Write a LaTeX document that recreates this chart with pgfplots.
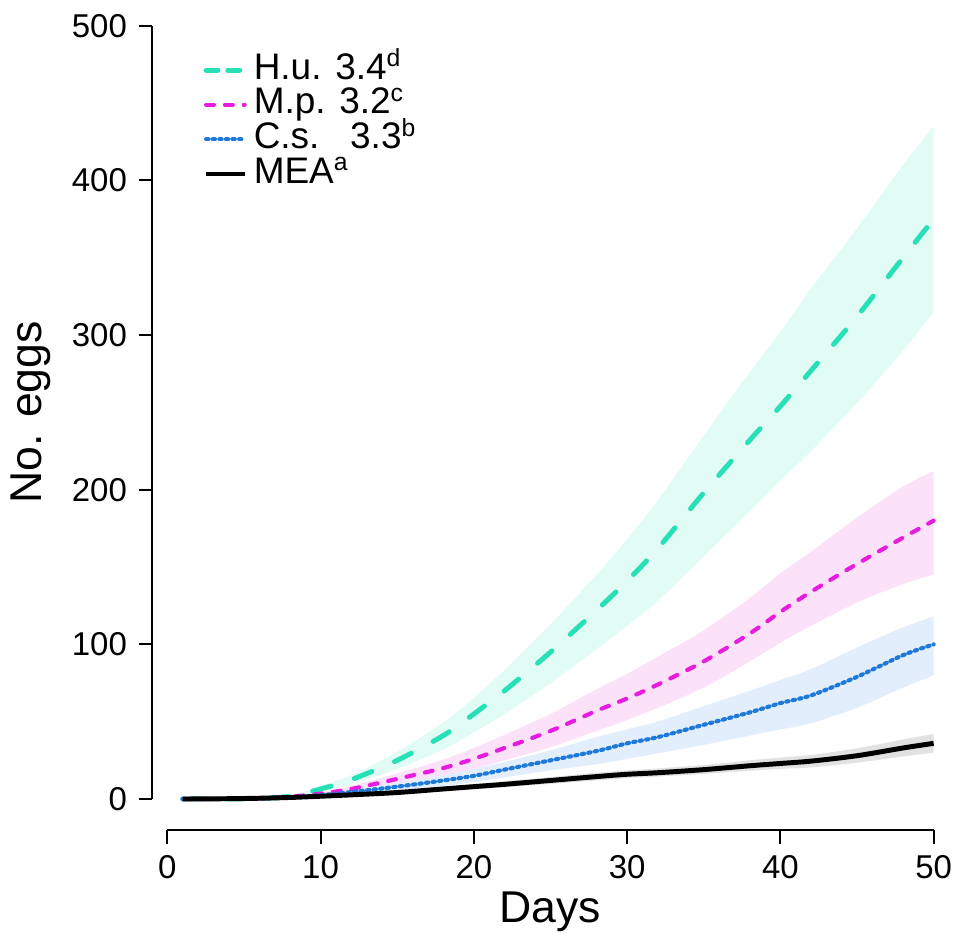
\documentclass[border=0pt]{standalone}
\usepackage{fontspec}
\setmainfont{Liberation Sans}
\usepackage{pgfplots}
\usepackage{pgfplotstable}
\pgfplotsset{compat=1.18}
\usepgfplotslibrary{fillbetween}

\definecolor{hucol}{RGB}{40,224,182}
\definecolor{huband}{RGB}{224,252,244}
\definecolor{mpcol}{RGB}{230,28,222}
\definecolor{mpband}{RGB}{252,226,248}
\definecolor{cscol}{RGB}{30,122,216}
\definecolor{csband}{RGB}{226,238,252}
\definecolor{meaband}{RGB}{226,226,226}

\newcommand{\sups}[1]{\raisebox{0.33em}{\fontsize{7.5}{8}\selectfont #1}}

% x, mean, lower, upper
\pgfplotstableread{
x   m    lo    hi
1   0    0     0
4   0.1  0.05  0.2
6   0.4  0.3   0.6
8   1.8  1.3   2.4
10  6.5  4.8   8.2
12  12.5 9.5   15.5
15  25   19.5  30.5
18  41   32    49.5
20  55   43    65.5
22  70   55    83.5
25  95   75    113
28  122  97    145
30  141  112   168
32  162  128   193
35  198  157   235
38  232  186   276
40  254  206   302
42  277  225   330
45  312  256   369
48  350  290   410
50  375  315   435
}\hutable

\pgfplotstableread{
x   m    lo    hi
1   0    0     0
4   0.1  0.05  0.2
6   0.4  0.2   0.6
8   1.5  1     2
10  3.5  2.5   4.5
12  6.5  4.5   8.5
15  13   9.5   16.5
18  20   15    25.5
20  26   19.5  33
22  33   25    41.5
25  44   33.5  55
28  57   44    71
30  65   51    81
32  74   59    92
35  89   72    109
38  107  89    130
40  121  101   146
42  134  112   160
45  152  127   182
48  169  139   202
50  180  145   212
}\mptable

\pgfplotstableread{
x   m    lo    hi
1   0    0     0
4   0.1  0.05  0.2
6   0.3  0.2   0.5
8   1    0.6   1.4
10  2.5  1.6   3.5
12  4.5  3     6
15  8    5.5   10.5
18  12   8.5   15.5
20  15   11    19.5
22  19   14    24
25  25   18.5  31.5
28  31   22.5  40
30  36   26    45
32  40   29.5  50
35  48   35    60
38  56   41    70
40  62   45    77
42  67   49    84
45  79   59    98
48  93   72    111
50  100  80    118
}\cstable

\pgfplotstableread{
x   m    lo    hi
1   0    0     0
4   0.2  0.1   0.3
6   0.5  0.3   0.7
8   1    0.7   1.3
10  1.8  1.3   2.3
12  2.7  2     3.4
15  4.2  3.2   5.2
18  6.5  5     8
20  8    6.3   9.7
22  9.5  7.5   11.5
25  12   9.8   14.2
28  14.5 12    17
30  16   13.5  18.5
32  17   14.5  19.8
35  19   16.2  22
38  21.5 18.2  25
40  23   19.5  26.8
42  24.5 20.5  28.5
45  28   23.5  32.8
48  33   27.5  38.5
50  36   30    42
}\meatable

\begin{document}
\begin{tikzpicture}
\begin{axis}[
    scale only axis,
    width=232.2pt, height=234.3pt,
    xmin=0, xmax=50, ymin=0, ymax=500,
    axis lines=left,
    axis x line shift=9.3pt,
    axis y line shift=4.5pt,
    axis line style={-, line width=0.6pt},
    tick align=outside,
    major tick length=4.2pt,
    tick style={black, line width=0.6pt},
    xtick={0,10,...,50}, ytick={0,100,...,500},
    /pgf/number format/assume math mode=true,
    tick label style={font=\fontsize{10}{12}\selectfont},
    xlabel={Days}, ylabel={No. eggs},
    label style={font=\fontsize{13.5}{16}\selectfont},
    xlabel style={at={(axis description cs:0.5,-0.160)}, anchor=base},
    ylabel style={at={(axis description cs:-0.164,0.5)}, anchor=base},
    clip=false,
    legend cell align=left,
    legend style={draw=none, fill=none, inner sep=0pt,
        at={(axis description cs:0.0465,0.966)}, anchor=north west,
        font=\fontsize{11.2}{13}\selectfont,
        nodes={inner sep=0pt, text height=8pt, text depth=2.5pt},
        /tikz/every odd column/.append style={column sep=2pt}},
    legend image code/.code={\draw[#1] (0pt,0pt) -- (11.7pt,0pt);},
]
% bands
\addplot[name path=huhi, draw=none, forget plot, smooth] table[x=x,y=hi] {\hutable};
\addplot[name path=hulo, draw=none, forget plot, smooth] table[x=x,y=lo] {\hutable};
\addplot[huband, draw=none, forget plot] fill between[of=huhi and hulo];
\addplot[name path=mphi, draw=none, forget plot, smooth] table[x=x,y=hi] {\mptable};
\addplot[name path=mplo, draw=none, forget plot, smooth] table[x=x,y=lo] {\mptable};
\addplot[mpband, draw=none, forget plot] fill between[of=mphi and mplo];
\addplot[name path=cshi, draw=none, forget plot, smooth] table[x=x,y=hi] {\cstable};
\addplot[name path=cslo, draw=none, forget plot, smooth] table[x=x,y=lo] {\cstable};
\addplot[csband, draw=none, forget plot] fill between[of=cshi and cslo];
\addplot[name path=meahi, draw=none, forget plot, smooth] table[x=x,y=hi] {\meatable};
\addplot[name path=mealo, draw=none, forget plot, smooth] table[x=x,y=lo] {\meatable};
\addplot[meaband, draw=none, forget plot] fill between[of=meahi and mealo];
% means
\addplot[hucol, line width=1.5pt, line cap=round, dash pattern=on 5.7pt off 7.5pt, smooth,
    legend image code/.code={\draw[hucol, line width=1.5pt, line cap=round, dash pattern=on 3.6pt off 3pt] (0pt,0pt) -- (11.7pt,0pt);}]
    table[x=x,y=m] {\hutable};
\addlegendentry{H.u. 3.4\sups{d}}
\addplot[mpcol, line width=1.25pt, line cap=round, dash pattern=on 2.4pt off 3.3pt, smooth] table[x=x,y=m] {\mptable};
\addlegendentry{M.p. 3.2\sups{c}}
\addplot[cscol, line width=1.25pt, line cap=round, dash pattern=on 0.7pt off 1.3pt, smooth] table[x=x,y=m] {\cstable};
\addlegendentry{C.s.\hspace{0.83em}3.3\sups{b}}
\addplot[black, line width=1.5pt, smooth] table[x=x,y=m] {\meatable};
\addlegendentry{MEA\sups{a}}
\path (axis cs:0,0) ++(-50.1pt,-42pt) rectangle ++(288.9pt,284.1pt);
\end{axis}
\end{tikzpicture}
\end{document}
